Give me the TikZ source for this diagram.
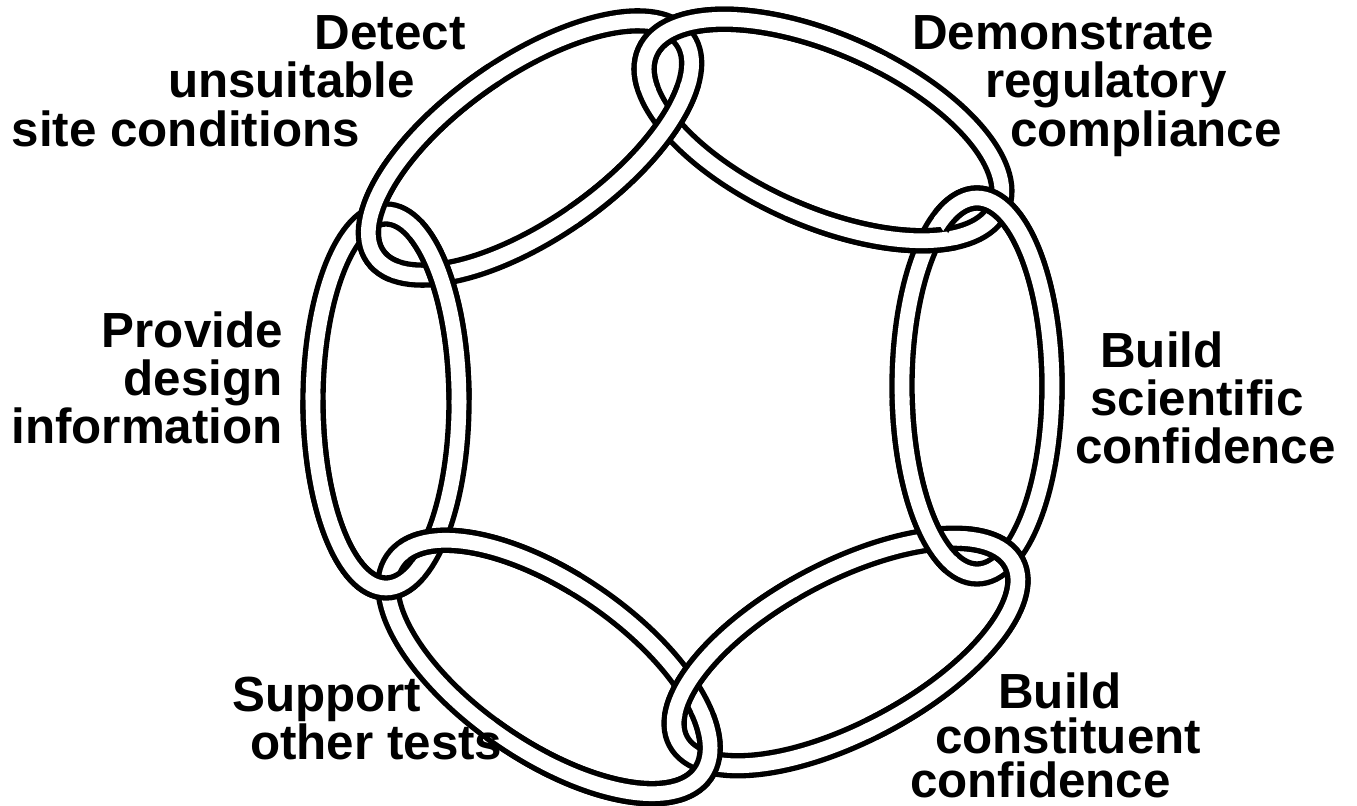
\documentclass[tikz,border=0pt]{standalone}
\usepackage{fontspec}
\setmainfont{Liberation Sans}
\usetikzlibrary{calc}

% one link of the chain: style, centre x, centre y, half length, half width, tilt
\newcommand\ringlink[6]{%
  \draw[#1, rotate around={#6:(#2,#3)}] (#2,#3) ellipse [x radius=#4, y radius=#5];}
\newcommand\linkR [1]{\ringlink{#1}{977}{420}{188}{75}{90}}
\newcommand\linkTR[1]{\ringlink{#1}{823}{676}{192}{86}{-24}}
\newcommand\linkTL[1]{\ringlink{#1}{530}{658}{189}{81}{35}}
\newcommand\linkL [1]{\ringlink{#1}{386}{405}{187}{73}{90}}
\newcommand\linkBL[1]{\ringlink{#1}{549}{139}{187}{84}{-34.6}}
\newcommand\linkBR[1]{\ringlink{#1}{846}{154}{190}{80}{28}}

% clip to the wedge round the joint at angle #1, from radius #2 to radius #3,
% #4 degrees to each side
\newcommand\jointwedge[4]{%
  \clip ($(O)+(#1-#4:#2)$) arc [start angle=#1-#4, end angle=#1+#4, radius=#2]
    -- ($(O)+(#1+#4:#3)$) arc [start angle=#1+#4, end angle=#1-#4, radius=#3] -- cycle;}

% redraw the links that lie on top where two neighbours cross:
% #1 = direction of the joint, #2 = link on top on the inside, #3 = on the outside;
% the white core reaches a little past the black rim so that no seam is left
\newcommand\joint[3]{%
  \begin{scope}\jointwedge{#1}{1}{315}{30}#2{rimline}\end{scope}
  \begin{scope}\jointwedge{#1}{1}{318}{31}#2{coreline}\end{scope}
  \begin{scope}\jointwedge{#1}{315}{900}{30}#3{rimline}\end{scope}
  \begin{scope}\jointwedge{#1}{312}{900}{31}#3{coreline}\end{scope}}

\begin{document}
\begin{tikzpicture}[x=0.75pt, y=0.75pt,
  tube/.style={draw=black, line width=4pt, double=white, double distance=11pt},
  rimline/.style={draw=black, line width=19pt},
  coreline/.style={draw=white, line width=11pt},
  lbl/.style={font=\bfseries\fontsize{37}{37}\selectfont, inner sep=0pt}]
\useasboundingbox (0,0) rectangle (1357,806);
\coordinate (O) at (681,406);

% the six links
\linkR{tube} \linkTR{tube} \linkTL{tube} \linkL{tube} \linkBL{tube} \linkBR{tube}

% interlocking
\joint{30}{\linkTR}{\linkR}
\joint{90}{\linkTL}{\linkTR}
\joint{150}{\linkL}{\linkTL}
\joint{210}{\linkBL}{\linkL}
\joint{270}{\linkBR}{\linkBL}
\joint{330}{\linkR}{\linkBR}

% labels
\node[lbl, anchor=base east] (d1) at (466,756) {Detect};
\node[lbl, anchor=base east] (d2) at (415,708) {unsuitable};
\node[lbl, anchor=base east] (d3) at (360,659) {site conditions};

\node[lbl, anchor=base west] (r1) at (912,756) {Demonstrate};
\node[lbl, anchor=base west] (r2) at (985,708) {regulatory};
\node[lbl, anchor=base west] (r3) at (1010,659) {compliance};

\node[lbl, anchor=base west] (s1) at (1100,438) {Build};
\node[lbl, anchor=base west] (s2) at (1090,390) {scientific};
\node[lbl, anchor=base west] (s3) at (1075,342) {confidence};

\node[lbl, anchor=base east] (p1) at (283,458) {Provide};
\node[lbl, anchor=base east] (p2) at (283,410) {design};
\node[lbl, anchor=base east] (p3) at (283,362) {information};

\node[lbl, anchor=base west] (o1) at (232,94) {Support};
\node[lbl, anchor=base west] (o2) at (250,46) {other tests};

\node[lbl, anchor=base west] (c1) at (998,97) {Build};
\node[lbl, anchor=base west] (c2) at (935,52) {constituent};
\node[lbl, anchor=base west] (c3) at (910,8) {confidence};
\end{tikzpicture}
\end{document}
